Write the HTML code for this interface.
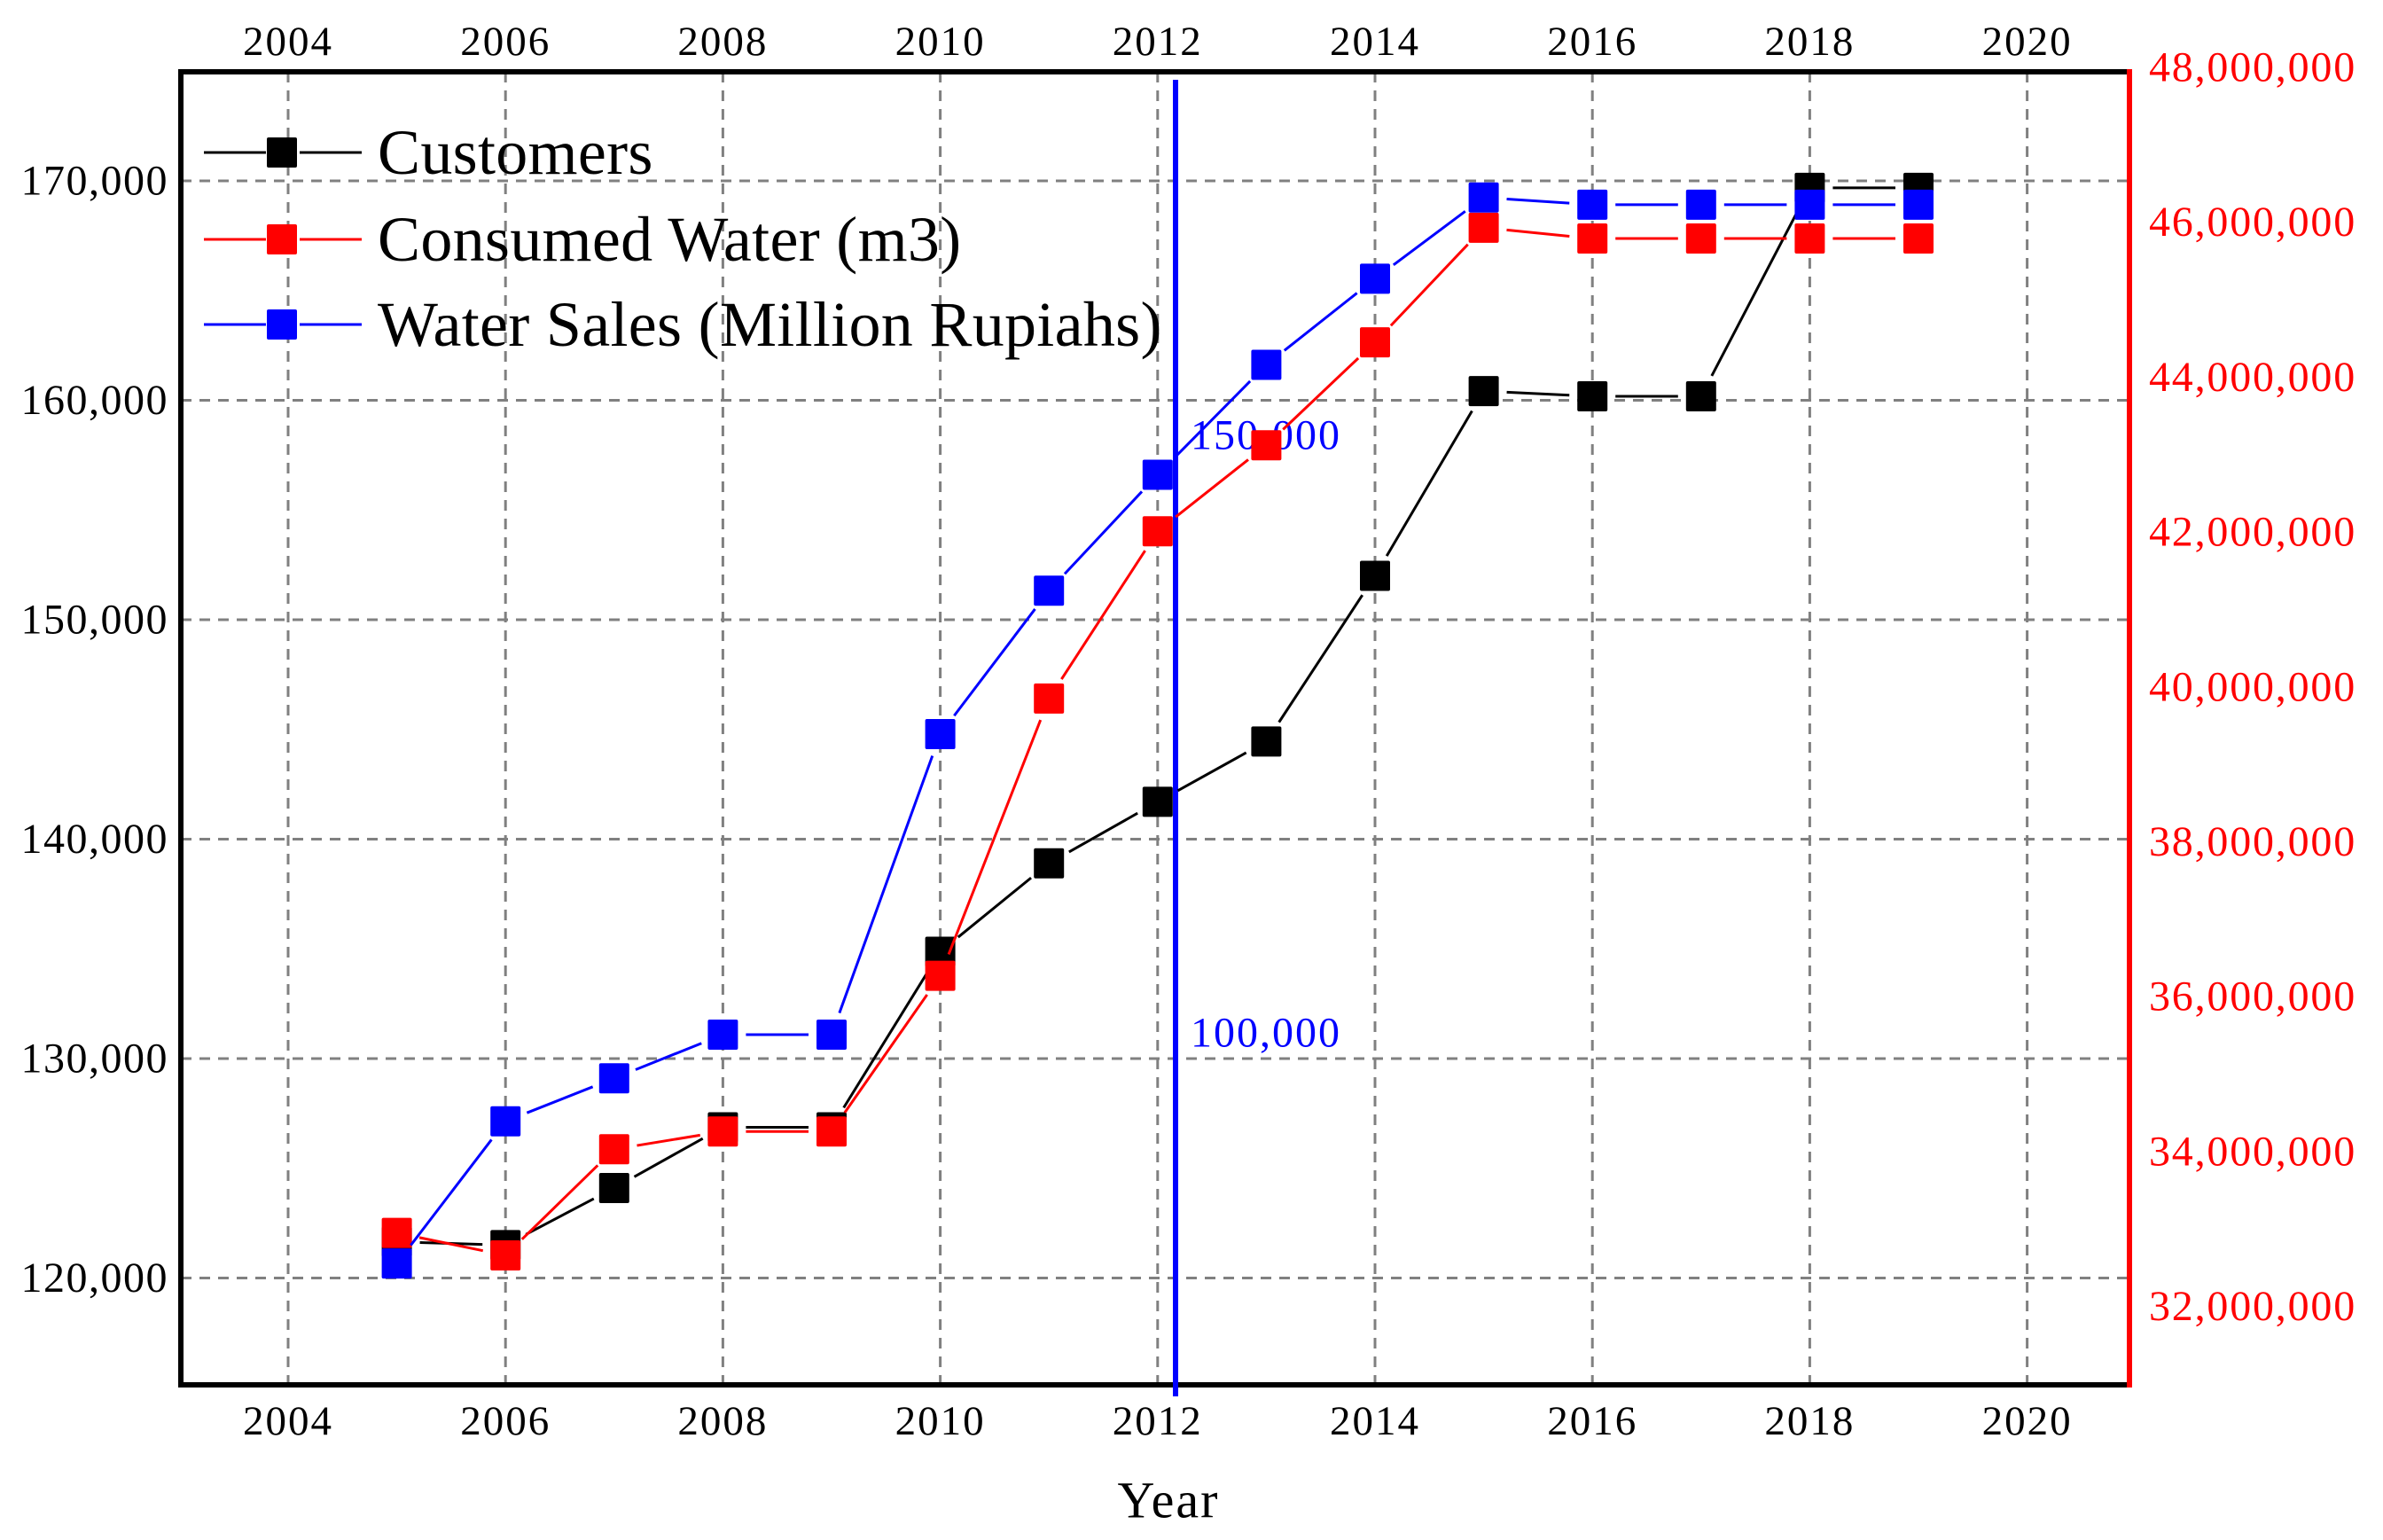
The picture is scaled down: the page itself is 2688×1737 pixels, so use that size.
<!DOCTYPE html>
<html><head><meta charset="utf-8"><style>
html,body{margin:0;padding:0;background:#fff;}
svg{display:block;font-family:"Liberation Serif",serif;}
</style></head><body>
<svg id="chart" width="2688" height="1737" viewBox="0 0 2688 1737" xmlns="http://www.w3.org/2000/svg">
<g id="grid"></g>
<g id="axes"></g>
<g id="series"></g>
<g id="legend"></g>
</svg>
<script>
const years = [2005,2006,2007,2008,2009,2010,2011,2012,2013,2014,2015,2016,2017,2018,2019];
const customers = [121650,121500,124100,126870,126870,134870,138900,141700,144450,152000,160420,160180,160180,169680,169680];
const consumedWater = [32950000,32660000,34030000,34260000,34260000,36270000,39850000,42010000,43120000,44450000,45930000,45790000,45790000,45790000,45790000];
const waterSales = [80700,92600,96200,99850,99850,125000,137000,146700,155900,163100,169900,169300,169300,169300,169300];
const xTicks = [2004,2006,2008,2010,2012,2014,2016,2018,2020];
const leftTicks = [120000,130000,140000,150000,160000,170000];
const rightTicks = [32000000,34000000,36000000,38000000,40000000,42000000,44000000,46000000,48000000];
const blueTicks = [100000,150000];

const L=204,R=2402,T=81,B=1562;
const xs = y => 325 + (y-2004)*122.6;
const yl = v => 204 + (170000-v)*0.02475;
const yr = v => 76 + (48000000-v)/2000000*174.7;
const yb = v => 1165 - (v-100000)*0.01348;
const NS="http://www.w3.org/2000/svg";
function mk(tag, attrs, parent){const e=document.createElementNS(NS,tag);for(const k in attrs)e.setAttribute(k,attrs[k]);parent.appendChild(e);return e;}
const grid=document.getElementById('grid'),axes=document.getElementById('axes'),ser=document.getElementById('series'),leg=document.getElementById('legend');
const fmt=n=>n.toLocaleString('en-US');

xTicks.forEach(t=>{
  const l=mk('line',{x1:xs(t),x2:xs(t),y1:T,y2:B,stroke:'#808080','stroke-width':3,'stroke-dasharray':'12 9'},grid);
  
  
  [47,1603].forEach((yy,i)=>{
    const tx=mk('text',{x:xs(t),y:yy,'text-anchor':'middle','dominant-baseline':'central','font-size':47,'letter-spacing':2,fill:'#000'},axes);
    tx.textContent=t;
    
    
  });
});
leftTicks.forEach(t=>{
  const l=mk('line',{x1:L,x2:R,y1:yl(t),y2:yl(t),stroke:'#808080','stroke-width':3,'stroke-dasharray':'12 9'},grid);
  
  
  const tx=mk('text',{x:190,y:yl(t),'text-anchor':'end','dominant-baseline':'central','font-size':48,'letter-spacing':1.5,fill:'#000'},axes);
  tx.textContent=fmt(t);
  
  
});
rightTicks.forEach(t=>{
  const tx=mk('text',{x:2424,y:yr(t),'text-anchor':'start','dominant-baseline':'central','font-size':48,'letter-spacing':1.8,fill:'#ff0000'},axes);
  tx.textContent=fmt(t);
  
  
});
const f1=mk('polyline',{points:`${R},${T} ${L},${T} ${L},${B} ${R},${B}`,fill:'none',stroke:'#000','stroke-width':6},axes);


const ra=mk('line',{x1:R,x2:R,y1:T-3,y2:B+3,stroke:'#ff0000','stroke-width':6},axes);


const ba=mk('line',{x1:1326,x2:1326,y1:90,y2:1575,stroke:'#0000ff','stroke-width':6},axes);


blueTicks.forEach(t=>{
  const tx=mk('text',{x:1343,y:yb(t),'text-anchor':'start','dominant-baseline':'central','font-size':48,'letter-spacing':2,fill:'#0000ff'},axes);
  tx.textContent=fmt(t);
  
  
});
const xt=mk('text',{x:1318,y:1692,'text-anchor':'middle','dominant-baseline':'central','font-size':58,'letter-spacing':2,fill:'#000'},axes);
xt.textContent='Year';



function drawSeries(vals,yf,color,name){
  const g=mk('g',{},ser);
  
  
  const pts=years.map((y,i)=>[xs(y),yf(vals[i])]);
  for(let i=0;i<pts.length-1;i++){
    const [x1,y1]=pts[i],[x2,y2]=pts[i+1];
    const dx=x2-x1,dy=y2-y1,len=Math.hypot(dx,dy),gap=26;
    if(len<=2*gap)continue;
    const ux=dx/len,uy=dy/len;
    const l=mk('line',{x1:x1+ux*gap,y1:y1+uy*gap,x2:x2-ux*gap,y2:y2-uy*gap,stroke:color,'stroke-width':3},g);
    
    
  }
  pts.forEach(([x,y])=>{
    const r=mk('rect',{x:x-17,y:y-17,width:34,height:34,rx:2,fill:color},g);
    
    
  });
}
drawSeries(customers,yl,'#000000','customers');
drawSeries(consumedWater,yr,'#ff0000','consumed-water');
drawSeries(waterSales,yb,'#0000ff','water-sales');

const legendItems=[['Customers','#000000',172],['Consumed Water (m3)','#ff0000',270],['Water Sales (Million Rupiahs)','#0000ff',366]];
legendItems.forEach(([lab,c,y])=>{
  const g=mk('g',{},leg);
  
  
  mk('line',{x1:230,x2:300,y1:y,y2:y,stroke:c,'stroke-width':3},g);
  mk('line',{x1:338,x2:408,y1:y,y2:y,stroke:c,'stroke-width':3},g);
  mk('rect',{x:301,y:y-17,width:34,height:34,rx:2,fill:c},g);
  const t=mk('text',{x:426,y:y,'dominant-baseline':'central','font-size':72,'letter-spacing':0.3,fill:'#000'},g);
  t.textContent=lab;
  
  
});
</script>
</body></html>
